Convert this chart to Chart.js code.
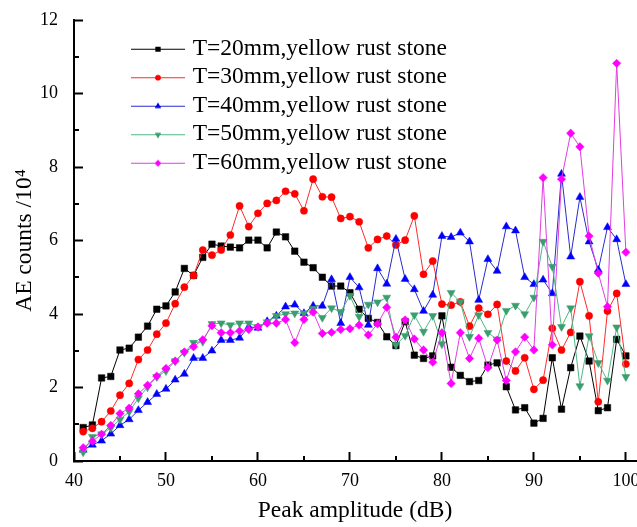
<!DOCTYPE html>
<html><head><meta charset="utf-8">
<script src="https://cdn.jsdelivr.net/npm/chart.js@4.4.1/dist/chart.umd.min.js"></script>
<style>
html,body{margin:0;padding:0;background:#fff;overflow:hidden;width:637px;height:527px}
#wrap{position:absolute;left:0;top:0;width:660px;height:527px}
</style>
</head><body><div id="wrap"><canvas id="c" width="660" height="527"></canvas></div>
<script>
const peakAmplitude = [41,42,43,44,45,46,47,48,49,50,51,52,53,54,55,56,57,58,59,60,61,62,63,64,65,66,67,68,69,70,71,72,73,74,75,76,77,78,79,80,81,82,83,84,85,86,87,88,89,90,91,92,93,94,95,96,97,98,99,100];
const t20 = [0.91,0.98,2.26,2.30,3.02,3.07,3.37,3.67,4.13,4.22, 4.60,5.24,5.05,5.54,5.90,5.85,5.82,5.80,6.01,6.01, 5.80,6.23,6.10,5.71,5.41,5.26,5.00,4.76,4.76,4.58, 4.13,3.88,3.77,3.38,3.14,3.79,2.88,2.79,2.86,3.95, 2.55,2.33,2.16,2.19,2.61,2.67,2.02,1.39,1.45,1.03, 1.16,2.81,1.41,2.54,3.40,2.72,1.37,1.45,3.31,2.86];
const t30 = [0.80,0.89,1.07,1.36,1.79,2.11,2.76,3.02,3.45,3.75, 4.28,4.73,5.05,5.74,5.60,5.74,6.15,6.94,6.38,6.74, 7.01,7.09,7.34,7.27,6.81,7.67,7.19,7.18,6.60,6.65, 6.51,5.80,6.03,6.12,5.88,6.01,6.67,5.08,5.44,4.27, 4.24,4.33,3.67,4.16,3.99,4.26,2.72,2.45,2.81,1.95, 2.20,3.61,3.02,3.50,4.88,3.95,1.61,4.08,4.56,2.64];
const t40 = [0.30,0.44,0.55,0.74,0.97,1.13,1.38,1.60,1.82,1.96, 2.21,2.37,2.80,2.80,3.00,3.29,3.29,3.35,3.65,3.62, 3.80,3.95,4.20,4.25,4.02,4.22,4.22,4.94,3.75,5.00, 4.72,3.70,5.24,4.82,6.04,4.95,4.67,4.08,4.52,6.12, 6.09,6.21,5.97,4.38,5.49,5.17,6.38,6.27,5.00,4.81, 4.93,4.56,7.81,5.56,7.18,5.97,5.20,6.36,6.03,4.81];
const t50 = [0.24,0.66,0.73,0.90,1.13,1.34,1.71,2.01,2.29,2.45, 2.72,2.95,3.22,3.25,3.73,3.75,3.70,3.75,3.75,3.65, 3.78,3.95,4.00,4.02,4.02,4.15,3.90,4.16,4.06,4.50, 3.93,4.26,4.32,4.45,3.16,3.41,3.97,3.52,3.95,3.18, 4.58,4.33,3.38,3.97,3.49,3.31,4.09,4.23,4.00,4.45, 5.97,5.29,3.65,4.16,2.04,3.40,2.67,2.19,3.64,2.29];
const t60 = [0.36,0.54,0.73,0.97,1.29,1.44,1.83,2.06,2.31,2.52, 2.72,2.97,3.11,3.30,3.68,3.49,3.49,3.54,3.58,3.65, 3.75,3.75,3.85,3.22,3.85,4.05,3.47,3.50,3.58,3.60, 3.70,3.43,3.73,4.18,3.37,3.84,3.32,3.02,2.69,3.49, 2.11,3.49,2.79,3.34,2.54,3.29,2.19,2.97,3.37,3.02, 7.71,3.16,7.67,8.92,8.55,6.12,5.11,4.20,10.82,5.68];
const seriesNames = ['T=20mm,yellow rust stone','T=30mm,yellow rust stone','T=40mm,yellow rust stone','T=50mm,yellow rust stone','T=60mm,yellow rust stone'];
const xTicks = [40,50,60,70,80,90,100];
const xMinorTicks = [45,55,65,75,85,95];
const yTicks = [0,2,4,6,8,10,12];
const yMinorTicks = [1,3,5,7,9,11];

const FONT = "'Liberation Serif','Times New Roman',serif";
const styles = [
  {line:'#000000', fill:'#000000', shape:'rect', r:4.6, rot:0},
  {line:'#ff2a2a', fill:'#ff0000', shape:'circle', r:3.6, rot:0},
  {line:'#2a2ad0', fill:'#0000ff', shape:'triangle', r:4.6, rot:0},
  {line:'#4fb886', fill:'#3a9e6e', shape:'triangle', r:4.6, rot:180},
  {line:'#e23ce2', fill:'#ff00ff', shape:'rectRot', r:4.2, rot:0}
];
const seriesValues = [t20,t30,t40,t50,t60];

function legendIcon(st){
  const c = document.createElement('canvas');
  c.width = 54; c.height = 12;
  const g = c.getContext('2d');
  g.strokeStyle = st.line; g.lineWidth = 1;
  g.beginPath(); g.moveTo(0,6.5); g.lineTo(54,6.5); g.stroke();
  g.fillStyle = st.fill;
  Chart.helpers.drawPoint(g, {pointStyle: st.shape, radius: st.r*0.75, rotation: st.rot, borderWidth: 0}, 27, 6.5);
  g.fill();
  return c;
}

const datasets = seriesValues.map((vals, i) => ({
  label: seriesNames[i],
  data: peakAmplitude.map((x, k) => ({x: x, y: vals[k]})),
  borderColor: styles[i].line,
  borderWidth: 1,
  backgroundColor: styles[i].fill,
  pointBackgroundColor: styles[i].fill,
  pointBorderColor: styles[i].fill,
  pointBorderWidth: 0.5,
  pointStyle: styles[i].shape,
  pointRadius: styles[i].r,
  pointRotation: styles[i].rot,
  tension: 0,
  clip: false,
  order: [4,3,2,1,0][i]
}));

const minorTicksPlugin = {
  id: 'minorTicks',
  afterDraw(chart){
    const {ctx, scales:{x, y}} = chart;
    ctx.save();
    ctx.strokeStyle = '#000'; ctx.lineWidth = 2;
    xMinorTicks.forEach(v => {
      const px = Math.round(x.getPixelForValue(v));
      ctx.beginPath(); ctx.moveTo(px, y.bottom); ctx.lineTo(px, y.bottom - 5); ctx.stroke();
    });
    yMinorTicks.forEach(v => {
      const py = Math.round(y.getPixelForValue(v));
      ctx.beginPath(); ctx.moveTo(x.left, py); ctx.lineTo(x.left + 5, py); ctx.stroke();
    });
    ctx.restore();
  }
};
const legendShift = {
  id: 'legendShift',
  afterLayout(chart){
    const l = chart.legend;
    if (!l) return;
    const dx = 56, dy = 32;
    l.left += dx; l.right += dx; l.top += dy; l.bottom += dy;
  }
};

new Chart(document.getElementById('c'), {
  type: 'line',
  data: { datasets },
  plugins: [minorTicksPlugin, legendShift],
  options: {
    responsive: false,
    animation: false,
    devicePixelRatio: 1,
    layout: { padding: { left: 0, top: 20, right: 24, bottom: 0 } },
    plugins: {
      tooltip: { enabled: false },
      legend: {
        position: 'chartArea',
        align: 'start',
        labels: {
          usePointStyle: true,
          pointStyleWidth: 46,
          padding: 5,
          color: '#000',
          font: { family: FONT, size: 23.5 },
          generateLabels: (chart) => chart.data.datasets.map((ds, i) => ({
            text: ds.label,
            pointStyle: legendIcon(styles[i]),
            fillStyle: styles[i].fill,
            strokeStyle: styles[i].line,
            lineWidth: 0,
            hidden: false,
            datasetIndex: i
          }))
        }
      }
    },
    scales: {
      x: {
        type: 'linear',
        min: 40, max: 101.1,
        afterBuildTicks: (s) => { s.ticks = xTicks.map(v => ({value: v})); },
        afterFit: (s) => { s.height = 66; s.paddingLeft = 0; s.paddingRight = 0; },
        grid: { drawOnChartArea: false, drawTicks: true, tickLength: -9, tickWidth: 2, tickColor: '#000' },
        border: { display: true, color: '#000', width: 2 },
        ticks: { color: '#000', padding: 18, maxRotation: 0, font: { family: FONT, size: 18 } },
        title: { display: true, text: 'Peak amplitude (dB)', color: '#000', font: { family: FONT, size: 23.5 }, padding: { top: 0, bottom: 2 } }
      },
      y: {
        type: 'linear',
        min: 0, max: 12,
        afterBuildTicks: (s) => { s.ticks = yTicks.map(v => ({value: v})); },
        afterFit: (s) => { s.width = 74; s.paddingTop = 10; s.paddingBottom = 0; },
        grid: { drawOnChartArea: false, drawTicks: true, tickLength: -9, tickWidth: 2, tickColor: '#000' },
        border: { display: true, color: '#000', width: 2 },
        ticks: { color: '#000', padding: 25, font: { family: FONT, size: 18 } },
        title: { display: true, text: 'AE counts /10\u2074', color: '#000', font: { family: FONT, size: 23.5 }, padding: { top: 11, bottom: 0 } }
      }
    }
  }
});
</script>
</body></html>
